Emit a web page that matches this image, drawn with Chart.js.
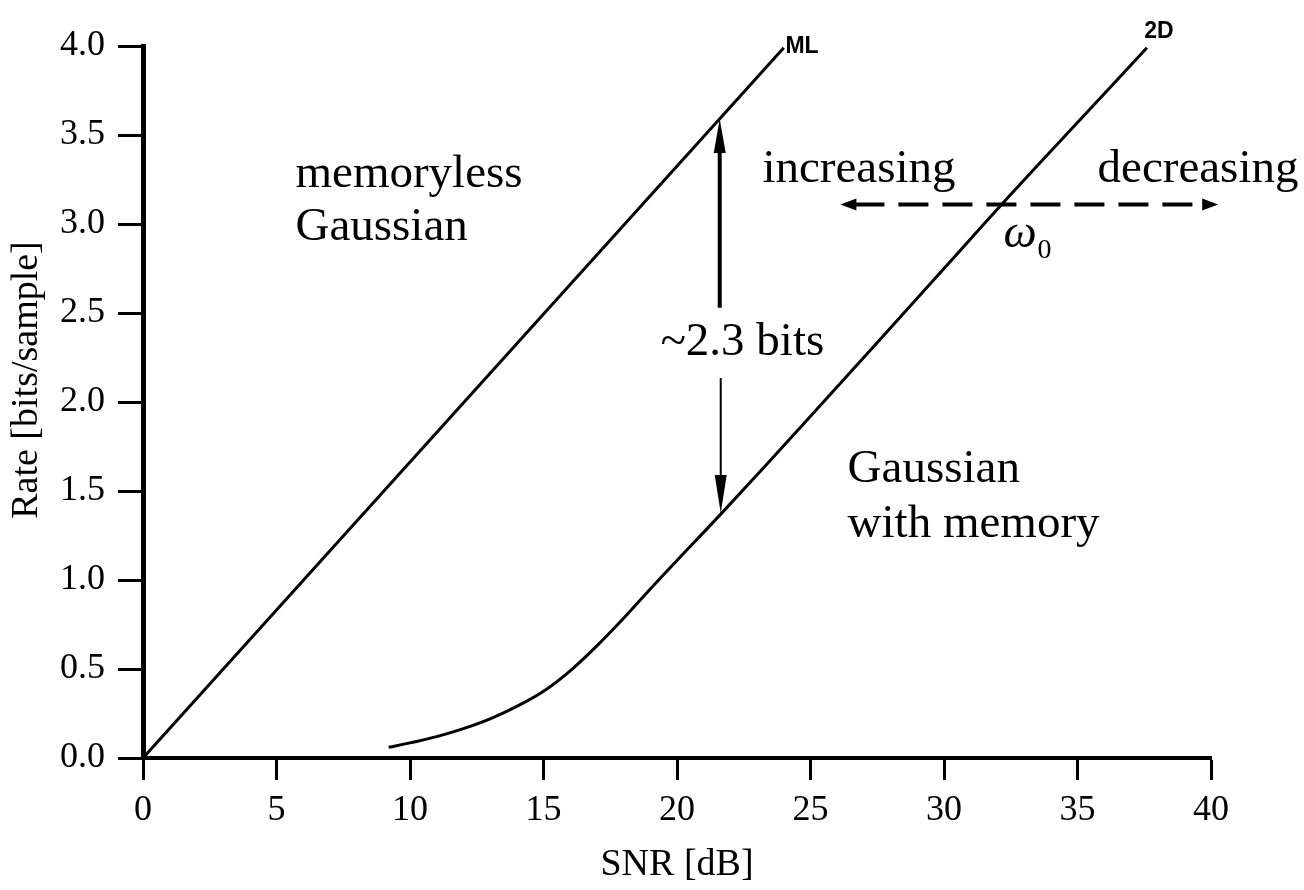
<!DOCTYPE html>
<html>
<head>
<meta charset="utf-8">
<script src="https://cdn.jsdelivr.net/npm/chart.js@4.4.1/dist/chart.umd.min.js"></script>
<style>
  body { margin: 0; background: #fff; }
  #wrap { width: 1304px; height: 890px; }
</style>
</head>
<body>
<div id="wrap"><canvas id="rateChart" width="1304" height="890"></canvas></div>
<script>
// --- data ---
const mlSnr = [0, 24.0];
const mlRate = [0, 3.99];

const memSnr = [9.2, 10.0, 11.0, 12.0, 13.0, 14.0, 15.0, 16.0, 17.0, 18.0, 19.0, 20.0, 21.7, 25, 30, 32.1, 35, 37.6];
const memRate = [0.06, 0.085, 0.12, 0.165, 0.22, 0.29, 0.375, 0.49, 0.63, 0.785, 0.95, 1.11, 1.38, 1.92, 2.75, 3.10, 3.57, 3.99];

const xTicks = [0, 5, 10, 15, 20, 25, 30, 35, 40];
const yTicks = ["0.0", "0.5", "1.0", "1.5", "2.0", "2.5", "3.0", "3.5", "4.0"];

const serif = '"Liberation Serif", "Times New Roman", serif';

function toPoints(xs, ys) {
    return xs.map((v, i) => ({ x: v, y: ys[i] }));
}

function arrowHead(ctx, tx, ty, dx, dy, len, half) {
    // filled triangle, tip at (tx, ty), pointing along (dx, dy)
    const bx = tx - dx * len, by = ty - dy * len;
    ctx.beginPath();
    ctx.moveTo(tx, ty);
    ctx.lineTo(bx - dy * half, by + dx * half);
    ctx.lineTo(bx + dy * half, by - dx * half);
    ctx.closePath();
    ctx.fill();
}

// --- text and arrows on top of the plot ---
const notes = {
    id: "notes",
    afterDatasetsDraw(chart) {
        const { ctx, scales } = chart;
        const X = v => scales.x.getPixelForValue(v);
        const Y = v => scales.y.getPixelForValue(v);

        ctx.save();
        ctx.fillStyle = "#000";
        ctx.strokeStyle = "#000";
        ctx.textAlign = "left";
        ctx.textBaseline = "alphabetic";

        ctx.font = "47px " + serif;
        ctx.fillText("memoryless", X(5.71), Y(3.21));
        ctx.fillText("Gaussian", X(5.71), Y(2.91));
        ctx.fillText("increasing", X(23.2), Y(3.235));
        ctx.fillText("decreasing", X(35.75), Y(3.235));
        ctx.fillText("~2.3 bits", X(19.38), Y(2.264));
        ctx.fillText("Gaussian", X(26.39), Y(1.55));
        ctx.fillText("with memory", X(26.39), Y(1.24));

        ctx.font = "italic 47px " + serif;
        ctx.fillText("\u03C9", X(32.23), Y(2.87));
        ctx.font = "28px " + serif;
        ctx.fillText("0", X(33.5), Y(2.81));

        ctx.font = "bold 23px \"Liberation Sans\", Arial, sans-serif";
        ctx.fillText("ML", X(24.06), Y(3.96));
        ctx.fillText("2D", X(37.5), Y(4.045));

        // y axis title, centred a little above the middle like the original
        ctx.save();
        ctx.font = "38px " + serif;
        ctx.textAlign = "center";
        ctx.textBaseline = "middle";
        ctx.translate(27, 380);
        ctx.rotate(-Math.PI / 2);
        ctx.fillText("Rate [bits/sample]", 0, 0);
        ctx.restore();

        // dashed double arrow
        const ay = Y(3.11);
        const ax1 = X(26.12), ax2 = X(40.27);
        ctx.lineWidth = 4;
        ctx.setLineDash([30, 14]);
        ctx.beginPath();
        ctx.moveTo(ax1 + 14, ay);
        ctx.lineTo(ax2 - 14, ay);
        ctx.stroke();
        ctx.setLineDash([]);
        arrowHead(ctx, ax1, ay, -1, 0, 16, 6);
        arrowHead(ctx, ax2, ay, 1, 0, 16, 6);

        // vertical gap arrow
        const vx = X(21.6);
        ctx.lineWidth = 4;
        ctx.beginPath();
        ctx.moveTo(vx, Y(3.59) + 20);
        ctx.lineTo(vx, Y(2.53));
        ctx.stroke();
        arrowHead(ctx, vx, Y(3.59), 0, -1, 34, 6);

        ctx.lineWidth = 2;
        ctx.beginPath();
        ctx.moveTo(vx + 1, Y(2.135));
        ctx.lineTo(vx + 1, Y(1.376) - 20);
        ctx.stroke();
        arrowHead(ctx, vx + 1, Y(1.376), 0, 1, 38, 6);

        ctx.restore();
    }
};

const ctx = document.getElementById("rateChart").getContext("2d");

new Chart(ctx, {
    type: "scatter",
    data: {
        datasets: [
            {
                label: "ML",
                data: toPoints(mlSnr, mlRate),
                showLine: true,
                borderColor: "#000",
                borderWidth: 3,
                pointRadius: 0,
                clip: 6
            },
            {
                label: "2D",
                data: toPoints(memSnr, memRate),
                showLine: true,
                borderColor: "#000",
                borderWidth: 3,
                pointRadius: 0,
                tension: 0.4,
                clip: 6
            }
        ]
    },
    options: {
        responsive: false,
        animation: false,
        devicePixelRatio: 1,
        layout: { padding: { top: 46, right: 93, left: 0, bottom: 0 } },
        plugins: {
            legend: { display: false },
            tooltip: { enabled: false }
        },
        scales: {
            x: {
                type: "linear",
                min: 0,
                max: 40,
                afterFit: s => { s.height = 132; },
                afterBuildTicks: s => { s.ticks = xTicks.map(v => ({ value: v })); },
                ticks: {
                    color: "#000",
                    padding: 9,
                    font: { family: serif, size: 36 },
                    callback: v => String(v)
                },
                grid: {
                    drawOnChartArea: false,
                    drawTicks: true,
                    tickLength: 22,
                    tickWidth: 3,
                    tickColor: "#000"
                },
                border: { display: true, color: "#000", width: 4 },
                title: {
                    display: true,
                    text: "SNR [dB]",
                    color: "#000",
                    font: { family: serif, size: 38 },
                    padding: { top: 0, bottom: 2 }
                }
            },
            y: {
                type: "linear",
                min: 0,
                max: 4,
                afterFit: s => { s.width = 143; },
                afterBuildTicks: s => { s.ticks = yTicks.map(t => ({ value: parseFloat(t) })); },
                ticks: {
                    color: "#000",
                    padding: 13,
                    font: { family: serif, size: 36 },
                    callback: v => yTicks.find(t => parseFloat(t) === v)
                },
                grid: {
                    drawOnChartArea: false,
                    drawTicks: true,
                    tickLength: 25,
                    tickWidth: 3,
                    tickColor: "#000"
                },
                border: { display: true, color: "#000", width: 5 }
            }
        }
    },
    plugins: [notes]
});
</script>
</body>
</html>
